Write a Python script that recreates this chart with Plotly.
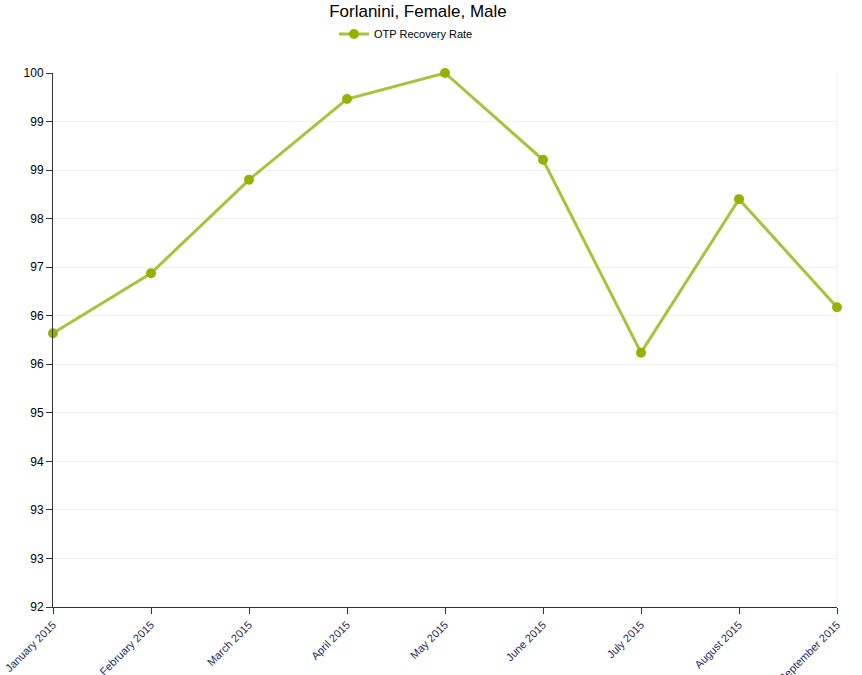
import plotly.graph_objects as go

months = ["January 2015", "February 2015", "March 2015", "April 2015", "May 2015",
          "June 2015", "July 2015", "August 2015", "September 2015"]
recovery_rate = [96.10, 97.00, 98.40, 99.61, 100.0, 98.70, 95.81, 98.11, 96.49]

y_min, y_max = 92, 100
n_int = 11
tick_vals = [y_min + i * (y_max - y_min) / n_int for i in range(n_int + 1)]
tick_text = [str(int(round(v))) for v in tick_vals]

fig = go.Figure()
fig.add_trace(go.Scatter(
    x=months, y=recovery_rate, mode="lines+markers", name="OTP Recovery Rate",
    line=dict(color="#a9c23c", width=3),
    marker=dict(color="#99b000", size=10),
    cliponaxis=False,
))

fig.update_layout(
    width=862, height=675,
    margin=dict(l=53, r=25, t=73, b=68, autoexpand=False),
    paper_bgcolor="white", plot_bgcolor="white",
    font=dict(family="Arial, Liberation Sans, sans-serif", color="#000"),
    title=dict(text="Forlanini, Female, Male", xref="container", x=418 / 862,
               xanchor="center", yref="container", y=1, yanchor="top",
               pad=dict(t=5, b=0, l=0, r=0), font=dict(size=17, color="#000")),
    showlegend=True,
    legend=dict(orientation="h", x=(334 - 53) / 784, xanchor="left", y=(607 - 34) / 534,
                yanchor="middle", font=dict(size=11, color="#000"),
                bgcolor="rgba(0,0,0,0)"),
    xaxis=dict(
        type="category", range=[0, 8], showgrid=False, zeroline=False, automargin=False,
        showline=True, linecolor="#333", linewidth=1,
        ticks="outside", ticklen=6, tickcolor="#333",
        tickangle=-45, tickfont=dict(size=11, color="#1a2a5a"),
    ),
    yaxis=dict(
        range=[y_min, y_max], tickmode="array", tickvals=tick_vals, ticktext=tick_text,
        showgrid=True, gridcolor="#f0f0f0", gridwidth=1, zeroline=False, automargin=False,
        showline=True, linecolor="#333", linewidth=1,
        ticks="outside", ticklen=6, tickcolor="#333",
        tickfont=dict(size=12, color="#000"),
    ),
    shapes=[dict(type="line", xref="paper", yref="paper", x0=1, x1=1, y0=0, y1=1,
                 line=dict(color="#f0f0f0", width=1), layer="below")],
)

fig.write_html("out.html", config={"displayModeBar": False},
               post_script="document.body.style.margin='0px';")
